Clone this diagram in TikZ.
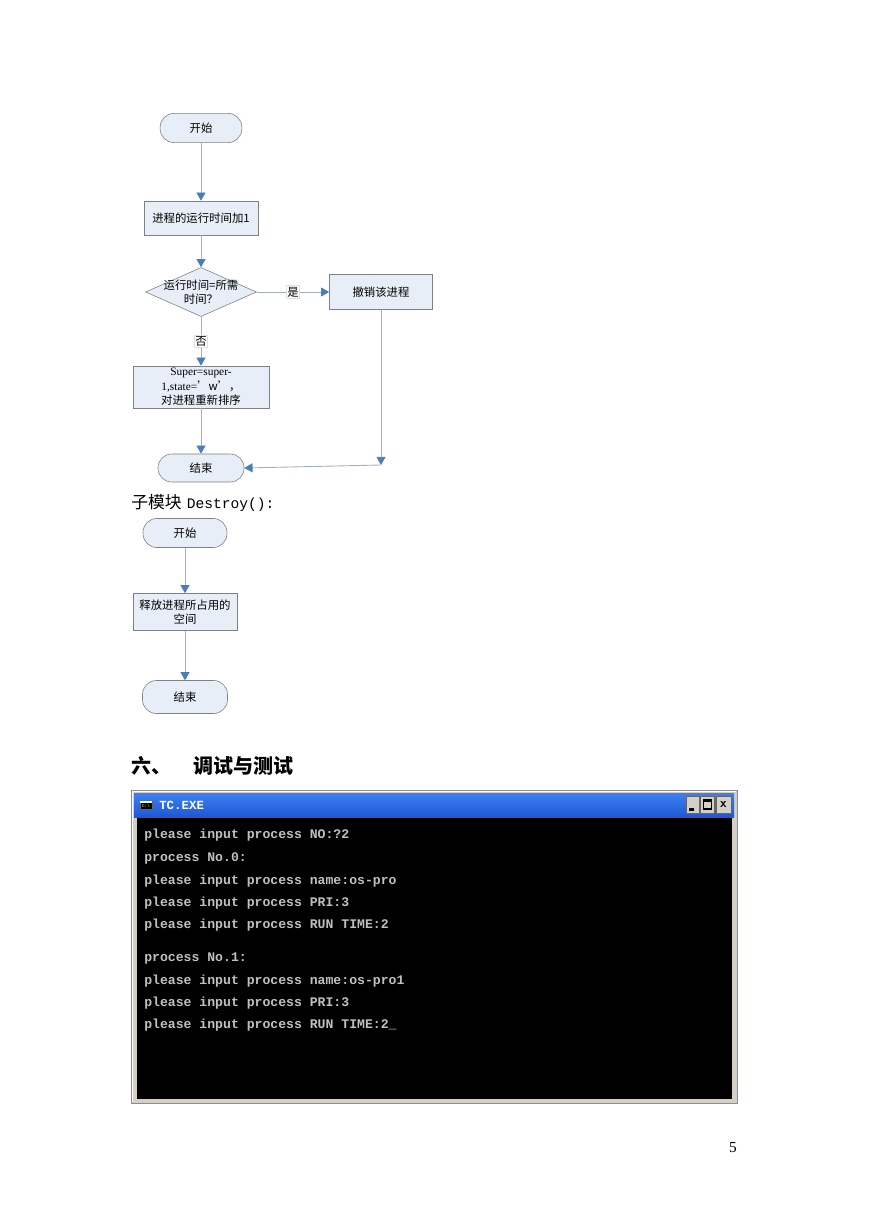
\documentclass[tikz,border=0pt]{standalone}
\usepackage{fontspec}
\setmainfont{Liberation Serif}
\newfontfamily\cjk{Noto Sans CJK SC}
\newfontfamily\conmono{Liberation Mono}
\usetikzlibrary{arrows.meta,shapes.geometric}

\definecolor{boxfill}{HTML}{E8EEF7}
\definecolor{boxline}{HTML}{808080}
\definecolor{flowline}{HTML}{A4B0C6}
\definecolor{tipblue}{HTML}{4A7EBB}
\definecolor{xpface}{HTML}{D4D0C8}
\definecolor{xptop}{HTML}{3D80F2}
\definecolor{xpbottom}{HTML}{1D58D4}
\definecolor{context}{HTML}{C0C0C0}

\begin{document}
\begin{tikzpicture}[x=0.685pt, y=-0.685pt,
  terminal/.style = {draw=boxline, fill=boxfill, rounded corners=9.5pt, inner sep=0pt,
                     font=\fontsize{7.8}{9.5}\selectfont\cjk},
  process/.style  = {draw=boxline, fill=boxfill, inner sep=0pt, align=center,
                     font=\fontsize{7.8}{10}\selectfont\cjk},
  decision/.style = {diamond, draw=boxline, fill=boxfill, inner sep=0pt},
  flow/.style     = {draw=flowline, line width=0.6pt, -{Triangle[width=6.2pt,length=5.6pt,color=tipblue]}},
  answer/.style   = {fill=white, draw=black!12, inner sep=0.8pt, font=\fontsize{7.8}{9.5}\selectfont\cjk},
  conline/.style  = {anchor=west, inner sep=0pt, text=context, font=\fontsize{9}{10}\selectfont\conmono\bfseries}]

  \useasboundingbox[fill=white] (0,0) rectangle (869,1228);

  % Flow chart of the running step
  \begin{scope}
    \node[terminal, minimum width=56pt, minimum height=20pt] (start) at (201,128) {开始};
    \node[process, minimum width=78pt, minimum height=23.3pt] (addtime) at (201,218) {进程的运行时间加1};
    \node[decision, minimum width=76pt, minimum height=33.6pt,
          label={[font=\fontsize{7.8}{9.5}\selectfont\cjk, align=center]center:{运行时间=所需\\时间？}}] (check) at (201,292) {};
    \node[process, minimum width=70.6pt, minimum height=24pt] (cancel) at (381,292) {撤销该进程};
    \node[process, minimum width=93.2pt, minimum height=28.8pt] (resort) at (201,387)
      {{\rmfamily Super=super-}\\{\rmfamily 1,state=}’w’，\\对进程重新排序};
    \node[terminal, minimum width=59pt, minimum height=19.2pt] (finish) at (201,468) {结束};
    \coordinate (turn) at (381,465);

    \draw[flow] (start) -- (addtime);
    \draw[flow] (addtime) -- (check);
    \draw[flow] (check.east) -- node[answer] {是} (cancel.west);
    \draw[flow] (check.south) -- node[answer] {否} (resort.north);
    \draw[flow] (resort) -- (finish);
    \draw[flow] (cancel.south) -- (turn);
    \draw[flow] (turn) -- (finish.east);
  \end{scope} % Flow chart of the running step

  \node[anchor=west, inner sep=0pt, font=\fontsize{11.5}{13}\selectfont\cjk] (destroyhead) at (131,503)
    {子模块\hspace{3.5pt}{\conmono\fontsize{10}{13}\selectfont Destroy():}};

  % Flow chart of Destroy()
  \begin{scope}
    \node[terminal, minimum width=57.5pt, minimum height=19.9pt] (dstart) at (185,533) {开始};
    \node[process, minimum width=71.2pt, minimum height=25.3pt] (release) at (185,612) {释放进程所占用的\\空间};
    \node[terminal, minimum width=58.2pt, minimum height=22.6pt] (dfinish) at (185,697) {结束};

    \draw[flow] (dstart) -- (release);
    \draw[flow] (release) -- (dfinish);
  \end{scope} % Flow chart of Destroy()

  \node[anchor=west, inner sep=0pt, font=\fontsize{13.7}{16}\selectfont\cjk\bfseries] (testhead) at (131,766)
    {六、\hspace{15pt}调试与测试};

  % Console window
  \begin{scope}
    \draw[fill=xpface, draw=black!45] (131,790) rectangle (737,1103);
    \draw[white, line width=0.8pt] (132.5,1101.5) -- (132.5,791.5) -- (735.5,791.5);
    \shade[top color=xptop, bottom color=xpbottom] (134,793) rectangle (734,817);
    \fill[black] (137,818) rectangle (732,1099);

    % title bar
    \draw[fill=black, draw=black!60] (140,801) rectangle (152,809);
    \fill[white] (140,801) rectangle (152,802.5);
    \node[inner sep=0pt, text=white, font=\fontsize{3}{3}\selectfont\conmono] (icontext) at (146,806) {C:\textbackslash};
    \node[anchor=west, inner sep=0pt, text=white, font=\fontsize{8.5}{9}\selectfont\conmono\bfseries] (title) at (159,805) {TC.EXE};

    \draw[fill=xpface, draw=black!60] (686,796) rectangle (699,813);
    \fill[black] (689,808) rectangle (694,810.5);
    \draw[fill=xpface, draw=black!60] (700,796) rectangle (714,813);
    \draw[black, line width=0.7pt] (703,800) rectangle (711,809);
    \draw[black, line width=1.4pt] (703,800.5) -- (711,800.5);
    \draw[fill=xpface, draw=black!60] (716,796) rectangle (731,813);
    \node[inner sep=0pt, font=\fontsize{9}{9}\selectfont\bfseries\sffamily] (closex) at (723.5,804.5) {x};

    % console text
    \node[conline] (l1) at (144,835)  {please input process NO:?2};
    \node[conline] (l2) at (144,858)  {process No.0:};
    \node[conline] (l3) at (144,881)  {please input process name:os-pro};
    \node[conline] (l4) at (144,903)  {please input process PRI:3};
    \node[conline] (l5) at (144,925)  {please input process RUN TIME:2};
    \node[conline] (l6) at (144,959)  {process No.1:};
    \node[conline] (l7) at (144,981)  {please input process name:os-pro1};
    \node[conline] (l8) at (144,1003) {please input process PRI:3};
    \node[conline] (l9) at (144,1025) {please input process RUN TIME:2\_};
  \end{scope} % Console window

  \node[font=\fontsize{10.5}{12}\selectfont] (pagenum) at (733,1148) {5};

\end{tikzpicture}
\end{document}
